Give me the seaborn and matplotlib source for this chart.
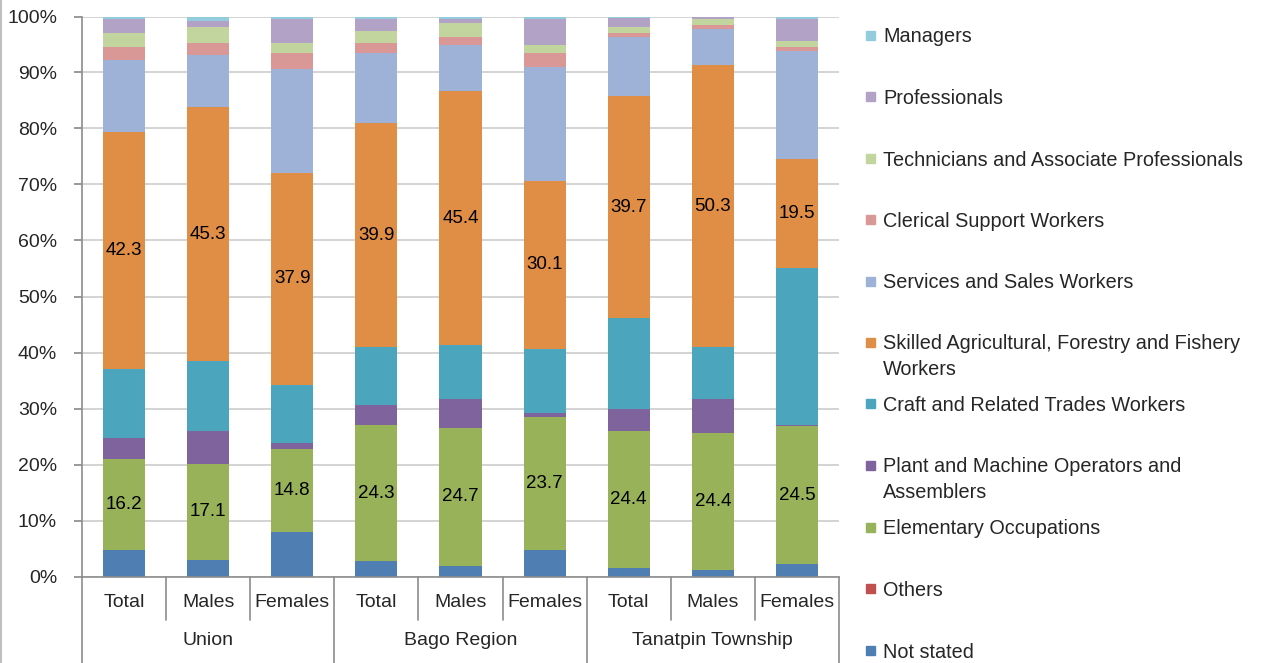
import numpy as np
import pandas as pd
import seaborn as sns
import matplotlib.pyplot as plt
import matplotlib.transforms as mtransforms
from matplotlib.patches import Rectangle

# ---- data (percent of employed population by occupation) ----
groups = ["Union", "Bago Region", "Tanatpin Township"]
sexes = ["Total", "Males", "Females"]

occupations = ["Not stated", "Others", "Elementary Occupations",
               "Plant and Machine Operators and\nAssemblers",
               "Craft and Related Trades Workers",
               "Skilled Agricultural, Forestry and Fishery\nWorkers",
               "Services and Sales Workers", "Clerical Support Workers",
               "Technicians and Associate Professionals", "Professionals", "Managers"]

not_stated = [4.8, 3.0, 8.0, 2.7, 1.9, 4.8, 1.6, 1.2, 2.3]
others = [0.0, 0.0, 0.0, 0.0, 0.0, 0.0, 0.0, 0.0, 0.0]
elementary = [16.2, 17.1, 14.8, 24.3, 24.7, 23.7, 24.4, 24.4, 24.5]
plant = [3.8, 5.9, 1.0, 3.6, 5.1, 0.7, 3.9, 6.1, 0.2]
craft = [12.2, 12.5, 10.4, 10.4, 9.6, 11.4, 16.2, 9.3, 28.0]
skilled = [42.3, 45.3, 37.9, 39.9, 45.4, 30.1, 39.7, 50.3, 19.5]
services = [12.9, 9.4, 18.5, 12.6, 8.3, 20.3, 10.6, 6.5, 19.4]
clerical = [2.3, 2.1, 2.9, 1.8, 1.4, 2.5, 0.7, 0.7, 0.7]
technicians = [2.5, 2.8, 1.8, 2.1, 2.5, 1.5, 1.0, 1.1, 1.0]
professionals = [2.5, 1.1, 4.3, 2.2, 0.7, 4.6, 1.6, 0.3, 4.0]
managers = [0.5, 0.8, 0.4, 0.4, 0.4, 0.4, 0.3, 0.1, 0.4]

colors = ["#4F7EB3", "#C0504D", "#98B25A", "#7F639C", "#4BA5BC", "#E08E45",
          "#9DB2D6", "#D99795", "#C3D59E", "#B2A2C6", "#93CDDD"]

labelled = ["Elementary Occupations", "Skilled Agricultural, Forestry and Fishery\nWorkers"]

bar_names = [g + " " + s for g in groups for s in sexes]
df = pd.DataFrame(dict(zip(occupations, [not_stated, others, elementary, plant, craft, skilled,
                                         services, clerical, technicians, professionals, managers])),
                  index=bar_names)
cum = df.cumsum(axis=1)

# ---- figure ----
sns.set_theme(style="white")
plt.rcParams["font.family"] = ["Liberation Sans", "DejaVu Sans"]
text_col = "#262626"
line_col = "#8C8C8C"

fig = plt.figure(figsize=(12.86, 6.63), dpi=100)
ax = fig.add_axes([82 / 1286, 86.5 / 663, 757 / 1286, 560 / 663])

# stacked bars: draw cumulative totals from the top layer down
for k in reversed(range(len(occupations))):
    sns.barplot(x=bar_names, y=cum.iloc[:, k].values, order=bar_names, color=colors[k],
                saturation=1, width=0.5, errorbar=None, linewidth=0, ax=ax, zorder=2)

# data labels on two series
for occ in labelled:
    k = occupations.index(occ)
    bottoms = cum.iloc[:, k].values - df.iloc[:, k].values
    for i, v in enumerate(df.iloc[:, k].values):
        ax.text(i, bottoms[i] + v / 2, f"{v:.1f}", ha="center", va="center",
                fontsize=13.5, color="black", zorder=3)

ax.set_ylim(0, 100)
ax.set_xlim(-0.5, 8.5)
ax.set_yticks(np.arange(0, 101, 10))
ax.set_yticklabels([f"{t}%" for t in range(0, 101, 10)], fontsize=14, color=text_col)
ax.yaxis.grid(True, color="#D0D0D0", linewidth=1.3, zorder=0)
ax.set_axisbelow(True)
ax.tick_params(axis="y", length=6, color=line_col, pad=12, left=True)
ax.tick_params(axis="x", length=0, labelbottom=False)
ax.set_xlabel("")
ax.set_ylabel("")
for side in ["top", "right"]:
    ax.spines[side].set_visible(False)
for side in ["left", "bottom"]:
    ax.spines[side].set_color(line_col)
    ax.spines[side].set_linewidth(1.2)

# multi-level category axis
trans = mtransforms.blended_transform_factory(ax.transData, ax.transAxes)
for b in np.arange(-0.5, len(bar_names), 1):
    low = -0.16 if (b + 0.5) % 3 == 0 else -0.078
    ax.plot([b, b], [0, low], color=line_col, lw=1.2, transform=trans, clip_on=False)
for i, name in enumerate(bar_names):
    ax.text(i, -0.046, sexes[i % 3], transform=trans, ha="center", va="center",
            fontsize=14, color=text_col)
for g, grp in enumerate(groups):
    ax.text(3 * g + 1, -0.114, grp, transform=trans, ha="center", va="center",
            fontsize=14, color=text_col)

# legend (top to bottom: Managers ... Not stated)
y0, step, line_h = 35, 61.5, 24
for j, occ in enumerate(reversed(occupations)):
    k = occupations.index(occ)
    yp = 1 - (y0 + j * step) / 663
    fig.add_artist(Rectangle((866 / 1286, yp - 4.5 / 663), 9 / 1286, 9 / 663,
                             transform=fig.transFigure, color=colors[k]))
    extra = occ.count("\n") * line_h / 2 + 2       # keep first line level with the marker
    fig.text(883 / 1286, yp - extra / 663, occ, ha="left", va="center", fontsize=14.3,
             color=text_col, linespacing=1.45)

# left border of the chart area
fig.add_artist(plt.Line2D([1 / 1286, 1 / 1286], [0, 1], color="#BFBFBF", lw=1.5,
                          transform=fig.transFigure))

plt.savefig("out.png", dpi=100)
